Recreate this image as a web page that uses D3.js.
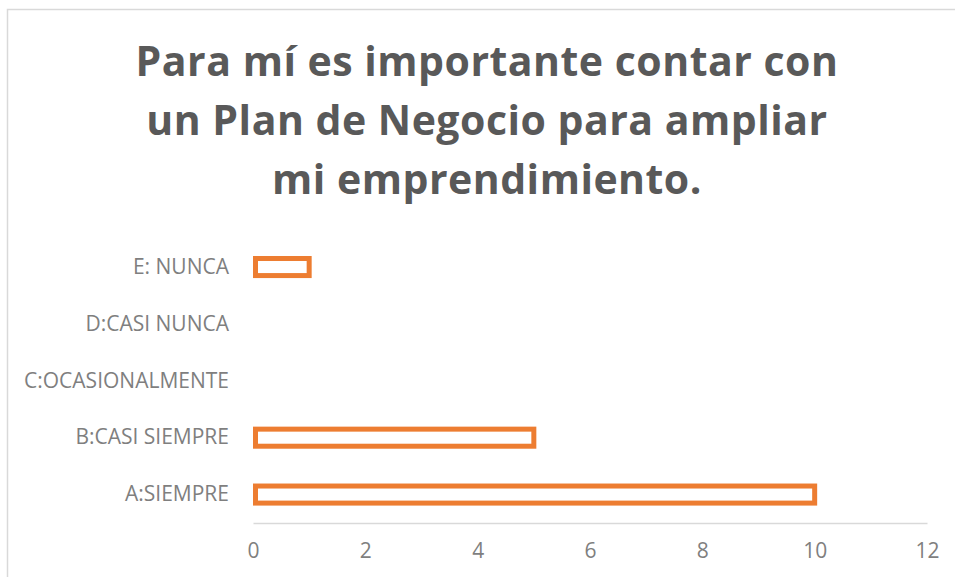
<!DOCTYPE html>
<html>
<head>
<meta charset="utf-8">
<script src="https://cdn.jsdelivr.net/npm/d3@7"></script>
<style>
  body { margin: 0; background: #fff; }
  svg { display: block; font-family: "Open Sans", "Liberation Sans", sans-serif; }
</style>
</head>
<body>
<svg width="955" height="577"></svg>
<script>
const categories = ["A:SIEMPRE", "B:CASI SIEMPRE", "C:OCASIONALMENTE", "D:CASI NUNCA", "E: NUNCA"];
const values = [10, 5, 0, 0, 1];
const xTicks = [0, 2, 4, 6, 8, 10, 12];
const titleLines = ["Para mí es importante contar con", "un Plan de Negocio para ampliar", "mi emprendimiento."];

const svg = d3.select("svg");

// chart frame (runs off the right and bottom edges)
svg.append("rect")
    .attr("x", 7.5).attr("y", 9.5)
    .attr("width", 1000).attr("height", 1000)
    .attr("fill", "none")
    .attr("stroke", "#d9d9d9")
    .attr("stroke-width", 1.5);

// title
svg.append("text")
    .attr("text-anchor", "middle")
    .attr("font-size", 41)
    .attr("font-weight", "bold")
    .attr("letter-spacing", 0.5)
    .attr("fill", "#595959")
    .selectAll("tspan")
    .data(titleLines)
    .join("tspan")
    .attr("x", 487)
    .attr("y", (d, i) => 76 + i * 59)
    .text(d => d);

const x = d3.scaleLinear().domain([0, 12]).range([253, 927]);
const y = d3.scaleBand()
    .domain(categories.slice().reverse())
    .range([238.6, 523])
    .paddingInner(0.7)
    .paddingOuter(0.35);

// x axis
const xAxis = svg.append("g")
    .attr("transform", "translate(0,523)")
    .call(d3.axisBottom(x).tickValues(xTicks).tickSize(0).tickPadding(20));
xAxis.select(".domain").attr("stroke", "#d9d9d9").attr("stroke-width", 1.5);
xAxis.selectAll("text")
    .attr("font-size", 21)
    .attr("fill", "#7f7f7f")
    .attr("font-family", "Open Sans, sans-serif");

// y axis labels
const yAxis = svg.append("g")
    .attr("transform", "translate(229,0)")
    .call(d3.axisLeft(y).tickSize(0).tickPadding(0));
yAxis.select(".domain").remove();
yAxis.selectAll("text")
    .attr("font-size", 21)
    .attr("fill", "#7f7f7f")
    .attr("font-family", "Open Sans, sans-serif");

// bars
const data = categories.map((c, i) => ({ c, v: values[i] }));
svg.append("g")
    .selectAll("rect")
    .data(data.filter(d => d.v > 0))
    .join("rect")
    .attr("x", x(0) + 2.5)
    .attr("y", d => y(d.c))
    .attr("width", d => x(d.v) - x(0) - 2.5)
    .attr("height", y.bandwidth())
    .attr("fill", "#fff")
    .attr("stroke", "#ed7d31")
    .attr("stroke-width", 5);
</script>
</body>
</html>
